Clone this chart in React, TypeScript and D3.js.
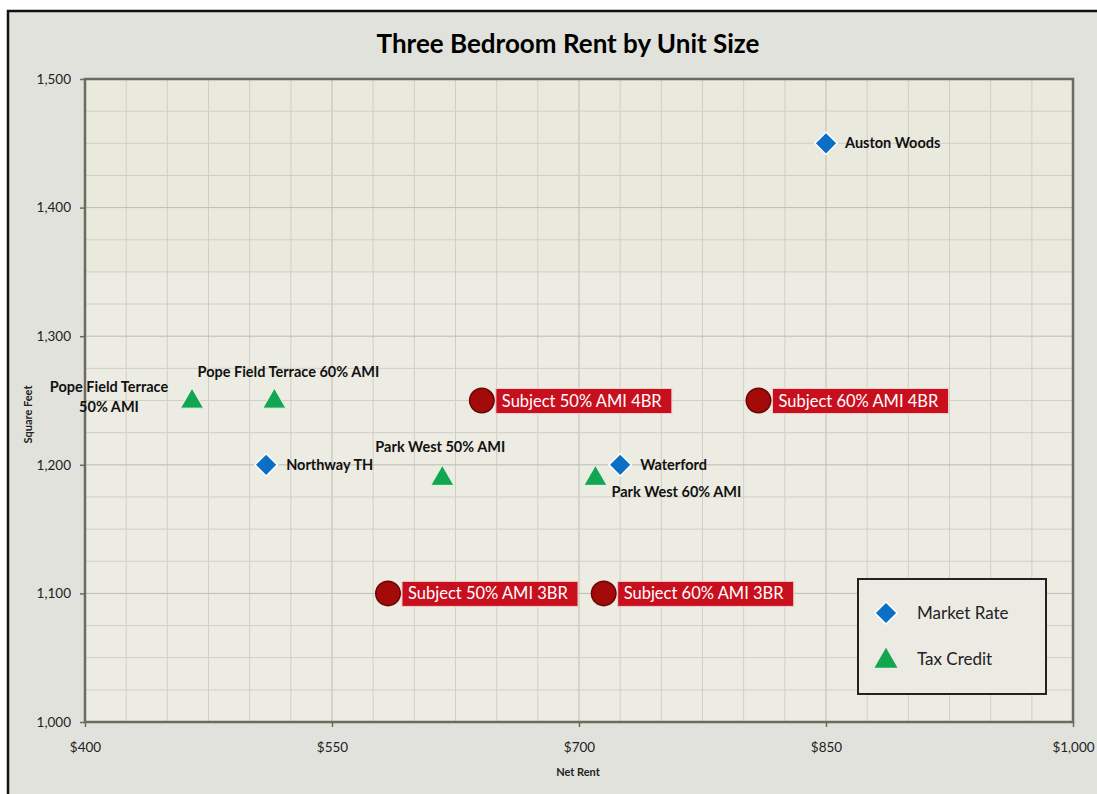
import React, { useEffect, useRef } from "react";
import * as d3 from "d3";

// Market rate comparables
const marketNames = ["Auston Woods", "Northway TH", "Waterford"];
const marketRent = [850, 510, 725];
const marketSqft = [1450, 1200, 1200];

// Tax credit comparables
const taxNames = [
  "Pope Field Terrace 50% AMI",
  "Pope Field Terrace 60% AMI",
  "Park West 50% AMI",
  "Park West 60% AMI",
];
const taxRent = [465, 515, 617, 710];
const taxSqft = [1250, 1250, 1190, 1190];

// Subject property
const subjectNames = [
  "Subject 50% AMI 4BR",
  "Subject 60% AMI 4BR",
  "Subject 50% AMI 3BR",
  "Subject 60% AMI 3BR",
];
const subjectRent = [641, 809, 584, 715];
const subjectSqft = [1250, 1250, 1100, 1100];

const xTicks = [400, 550, 700, 850, 1000];
const yTicks = [1000, 1100, 1200, 1300, 1400, 1500];
const legendLabels = ["Market Rate", "Tax Credit"];

// label placement (dx, dy from point, anchor)
const marketLabelPos = [
  { dx: 19, dy: 5, anchor: "start" },
  { dx: 20, dy: 5, anchor: "start" },
  { dx: 20, dy: 5, anchor: "start" },
];
const taxLabelPos = [
  { dx: -83, dy: -9, anchor: "middle", lines: ["Pope Field Terrace", "50% AMI"] },
  { dx: 14, dy: -24, anchor: "middle", lines: null },
  { dx: -2, dy: -26, anchor: "middle", lines: null },
  { dx: 16, dy: 19, anchor: "start", lines: null },
];

const FONT = "Lato, 'Open Sans', sans-serif";

function App() {
  const svgRef = useRef(null);
  const [width, height] = [1097, 794];
  const plot = { left: 85, right: 1073, top: 79, bottom: 722 };

  useEffect(() => {
    const svg = d3.select(svgRef.current);
    svg.selectAll("*").remove();

    const x = d3.scaleLinear().domain([400, 1000]).range([plot.left, plot.right]);
    const y = d3.scaleLinear().domain([1000, 1500]).range([plot.bottom, plot.top]);

    // chart background + frame
    svg.append("rect").attr("width", width).attr("height", height).attr("fill", "#ffffff");
    svg
      .append("rect")
      .attr("x", 8)
      .attr("y", 11)
      .attr("width", width)
      .attr("height", height)
      .attr("fill", "#e2e2dd")
      .attr("stroke", "#111")
      .attr("stroke-width", 2.5);

    svg
      .append("text")
      .attr("x", 568)
      .attr("y", 53)
      .attr("text-anchor", "middle")
      .attr("font-family", FONT)
      .attr("font-weight", "bold")
      .attr("font-size", 26)
      .attr("fill", "#000")
      .text("Three Bedroom Rent by Unit Size");

    // plot area
    svg
      .append("rect")
      .attr("x", plot.left)
      .attr("y", plot.top)
      .attr("width", plot.right - plot.left)
      .attr("height", plot.bottom - plot.top)
      .attr("fill", "#e9e9de");
    // lighter scanned lower band
    svg
      .append("rect")
      .attr("x", plot.left)
      .attr("y", 272)
      .attr("width", plot.right - plot.left)
      .attr("height", plot.bottom - 272)
      .attr("fill", "#edece3");

    const grid = svg.append("g");
    const minorX = d3.range(400, 1001, 25);
    const minorY = d3.range(1000, 1501, 25);
    grid
      .selectAll(".gx")
      .data(minorX)
      .join("line")
      .attr("x1", (d) => x(d))
      .attr("x2", (d) => x(d))
      .attr("y1", plot.top)
      .attr("y2", plot.bottom)
      .attr("stroke", (d) => (d % 150 === 100 ? "#bdbdb3" : "#cfcfc6"))
      .attr("stroke-width", 1);
    grid
      .selectAll(".gy")
      .data(minorY)
      .join("line")
      .attr("x1", plot.left)
      .attr("x2", plot.right)
      .attr("y1", (d) => y(d))
      .attr("y2", (d) => y(d))
      .attr("stroke", (d) => (d % 100 === 0 ? "#bdbdb3" : "#cfcfc6"))
      .attr("stroke-width", 1);

    svg
      .append("rect")
      .attr("x", plot.left)
      .attr("y", plot.top)
      .attr("width", plot.right - plot.left)
      .attr("height", plot.bottom - plot.top)
      .attr("fill", "none")
      .attr("stroke", "#6a6d5e")
      .attr("stroke-width", 2.5);

    // axes
    const xAxis = svg
      .append("g")
      .attr("transform", `translate(0,${plot.bottom})`)
      .call(
        d3
          .axisBottom(x)
          .tickValues(xTicks)
          .tickSize(5)
          .tickFormat((d) => "$" + d3.format(",")(d))
      );
    const yAxis = svg
      .append("g")
      .attr("transform", `translate(${plot.left},0)`)
      .call(d3.axisLeft(y).tickValues(yTicks).tickSize(5).tickFormat(d3.format(",")));
    [xAxis, yAxis].forEach((g) => {
      g.select(".domain").remove();
      g.selectAll(".tick line").attr("stroke", "#6a6d5e").attr("stroke-width", 1.5);
      g.selectAll(".tick text")
        .attr("font-family", FONT)
        .attr("font-size", 13.5)
        .attr("fill", "#222");
    });
    xAxis.selectAll(".tick text").attr("dy", "1.6em");
    yAxis.selectAll(".tick text").attr("x", -14);

    svg
      .append("text")
      .attr("x", 578)
      .attr("y", 776)
      .attr("text-anchor", "middle")
      .attr("font-family", FONT)
      .attr("font-weight", "bold")
      .attr("font-size", 11)
      .attr("fill", "#222")
      .text("Net Rent");
    svg
      .append("text")
      .attr("transform", `translate(32,${y(1250) + 14}) rotate(-90)`)
      .attr("text-anchor", "middle")
      .attr("font-family", FONT)
      .attr("font-weight", "bold")
      .attr("font-size", 11)
      .attr("fill", "#222")
      .text("Square Feet");

    const diamond = d3.symbol().type(d3.symbolSquare).size(250);
    const triangle = d3.symbol().type(d3.symbolTriangle).size(230);
    const circle = d3.symbol().type(d3.symbolCircle).size(470);

    const labelStyle = (sel) =>
      sel
        .attr("font-family", FONT)
        .attr("font-weight", "bold")
        .attr("font-size", 14.5)
        .attr("fill", "#111");

    // market rate
    marketRent.forEach((r, i) => {
      svg
        .append("path")
        .attr("d", diamond())
        .attr("transform", `translate(${x(r)},${y(marketSqft[i])}) rotate(45)`)
        .attr("fill", "#0b6fc6")
        .attr("stroke", "#ffffff")
        .attr("stroke-width", 1.5);
      const p = marketLabelPos[i];
      svg
        .append("text")
        .attr("x", x(r) + p.dx)
        .attr("y", y(marketSqft[i]) + p.dy)
        .attr("text-anchor", p.anchor)
        .call(labelStyle)
        .text(marketNames[i]);
    });

    // tax credit
    taxRent.forEach((r, i) => {
      svg
        .append("path")
        .attr("d", triangle())
        .attr("transform", `translate(${x(r)},${y(taxSqft[i]) + 1})`)
        .attr("fill", "#12a651")
        .attr("stroke", "#e6f5ea")
        .attr("stroke-width", 1);
      const p = taxLabelPos[i];
      const t = svg
        .append("text")
        .attr("x", x(r) + p.dx)
        .attr("y", y(taxSqft[i]) + p.dy)
        .attr("text-anchor", p.anchor)
        .call(labelStyle);
      if (p.lines) {
        p.lines.forEach((ln, k) =>
          t
            .append("tspan")
            .attr("x", x(r) + p.dx)
            .attr("dy", k === 0 ? 0 : 20)
            .text(ln)
        );
      } else {
        t.text(taxNames[i]);
      }
    });

    // subject
    subjectRent.forEach((r, i) => {
      const cx = x(r);
      const cy = y(subjectSqft[i]);
      svg
        .append("rect")
        .attr("x", cx + 14)
        .attr("y", cy - 12)
        .attr("width", 176)
        .attr("height", 25)
        .attr("fill", "#c80f1e")
        .attr("stroke", "#f3c9cc")
        .attr("stroke-width", 1);
      svg
        .append("path")
        .attr("d", circle())
        .attr("transform", `translate(${cx},${cy})`)
        .attr("fill", "#a30a0a")
        .attr("stroke", "#6a0505")
        .attr("stroke-width", 1.5);
      svg
        .append("text")
        .attr("x", cx + 20)
        .attr("y", cy + 6)
        .attr("font-family", FONT)
        .attr("font-size", 16.5)
        .attr("fill", "#ffffff")
        .text(subjectNames[i]);
    });

    // legend
    const lg = svg.append("g").attr("transform", "translate(858,579)");
    lg.append("rect")
      .attr("width", 188)
      .attr("height", 115)
      .attr("fill", "#ecebe3")
      .attr("stroke", "#222")
      .attr("stroke-width", 2);
    lg.append("path")
      .attr("d", diamond())
      .attr("transform", "translate(28,34) rotate(45)")
      .attr("fill", "#0b6fc6")
      .attr("stroke", "#fff")
      .attr("stroke-width", 1.5);
    lg.append("path")
      .attr("d", triangle())
      .attr("transform", "translate(28,82)")
      .attr("fill", "#12a651");
    legendLabels.forEach((lab, k) =>
      lg
        .append("text")
        .attr("x", 59)
        .attr("y", 40 + k * 46)
        .attr("font-family", FONT)
        .attr("font-size", 17)
        .attr("fill", "#222")
        .text(lab)
    );
  }, []);

  return (
    <div style={{ position: "absolute", left: 0, top: 0 }}>
      <svg ref={svgRef} width={width} height={height} style={{ display: "block" }}></svg>
    </div>
  );
}

export default App;
